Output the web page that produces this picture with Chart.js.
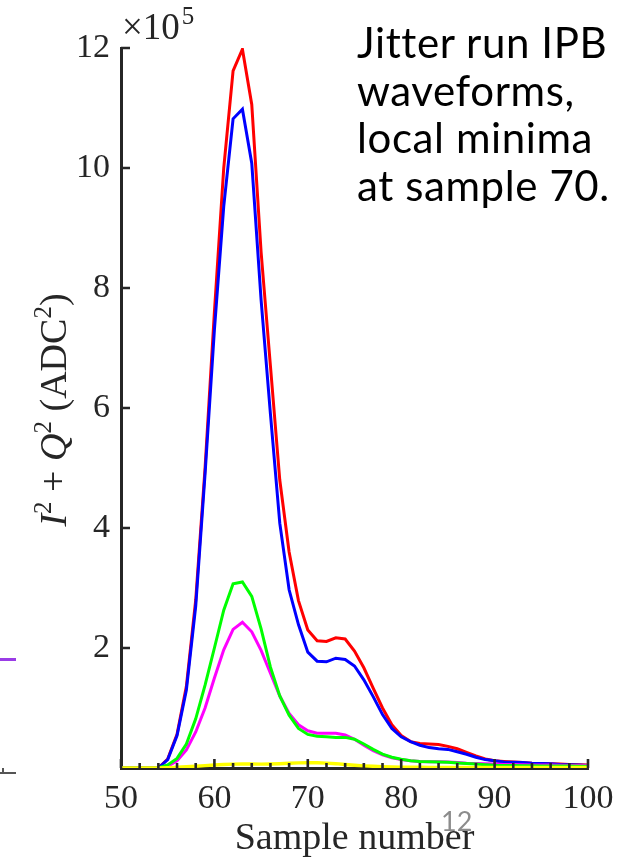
<!DOCTYPE html>
<html>
<head>
<meta charset="utf-8">
<script src="https://cdn.jsdelivr.net/npm/chart.js@4/dist/chart.umd.min.js"></script>
<style>
  html, body { margin: 0; padding: 0; background: #fff; }
  #wrap { position: relative; width: 641px; height: 865px; overflow: hidden; }
  #note {
    position: absolute; left: 357px; top: 19px;
    font-family: Lato, "Open Sans", sans-serif; font-size: 42px; line-height: 47.5px;
    letter-spacing: 0.6px; color: #000; white-space: nowrap;
  }
  #page { position: absolute; left: 441px; top: 804px; font-family: Lato, sans-serif; font-size: 27px; color: #8c8c8c; }
  .frag { position: absolute; }
</style>
</head>
<body>
<div id="wrap">
  <canvas id="myChart" width="641" height="865"></canvas>
  <div id="note">Jitter run IPB<br>waveforms,<br>local minima<br>at sample 70.</div>
  <div id="page">12</div>
  <!-- bits of the neighbouring figure on the slide -->
  <div class="frag" style="left:0;top:658px;width:16px;height:3px;background:#9a3ce6"></div>
  <div class="frag" style="left:0;top:772px;width:16px;height:2px;background:#555"></div>
  <div class="frag" style="left:2px;top:768px;width:2px;height:5px;background:#555"></div>
</div>
<script>
// sample index along the waveform
var samples = [50, 51, 52, 53, 54, 55, 56, 57, 58, 59,
               60, 61, 62, 63, 64, 65, 66, 67, 68, 69,
               70, 71, 72, 73, 74, 75, 76, 77, 78, 79,
               80, 81, 82, 83, 84, 85, 86, 87, 88, 89,
               90, 91, 92, 93, 94, 95, 96, 97, 98, 99, 100];

// I^2 + Q^2 in units of 1e5 ADC^2
var redWave = [0, 0, 0, 0, 0, 0.15, 0.56, 1.36, 2.8, 5.0,
               7.6, 10.0, 11.62, 11.98, 11.06, 8.6, 6.7, 4.8, 3.6, 2.79,
               2.3, 2.12, 2.11, 2.17, 2.15, 1.95, 1.67, 1.33, 1.0, 0.72,
               0.54, 0.44, 0.41, 0.4, 0.39, 0.36, 0.32, 0.26, 0.2, 0.15,
               0.12, 0.11, 0.1, 0.09, 0.08, 0.075, 0.07, 0.065, 0.06, 0.055, 0.05];
var blueWave = [0, 0, 0, 0, 0, 0.14, 0.54, 1.3, 2.7, 4.9,
                7.3, 9.36, 10.82, 10.98, 10.08, 7.8, 5.9, 4.08, 2.97, 2.39,
                1.93, 1.78, 1.77, 1.83, 1.81, 1.7, 1.47, 1.19, 0.89, 0.66,
                0.52, 0.44, 0.38, 0.34, 0.32, 0.31, 0.27, 0.23, 0.18, 0.14,
                0.12, 0.1, 0.095, 0.09, 0.08, 0.075, 0.07, 0.06, 0.055, 0.05, 0.04];
var greenWave = [0, 0, 0, 0, 0, 0.05, 0.16, 0.4, 0.82, 1.38,
                 2.0, 2.63, 3.07, 3.1, 2.86, 2.32, 1.68, 1.2, 0.88, 0.66,
                 0.56, 0.53, 0.52, 0.51, 0.51, 0.48, 0.4, 0.31, 0.23, 0.18,
                 0.145, 0.12, 0.11, 0.105, 0.1, 0.095, 0.085, 0.075, 0.065, 0.055,
                 0.045, 0.042, 0.04, 0.038, 0.036, 0.035, 0.034, 0.033, 0.032, 0.031, 0.03];
var magentaWave = [0, 0, 0, 0, 0, 0.03, 0.12, 0.3, 0.6, 1.0,
                   1.5, 1.97, 2.31, 2.43, 2.27, 1.96, 1.58, 1.2, 0.91, 0.72,
                   0.62, 0.58, 0.58, 0.58, 0.55, 0.48, 0.38, 0.29, 0.22, 0.17,
                   0.14, 0.12, 0.11, 0.105, 0.105, 0.1, 0.09, 0.08, 0.075, 0.07,
                   0.065, 0.06, 0.057, 0.054, 0.052, 0.05, 0.048, 0.045, 0.043, 0.041, 0.04];
var yellowWave = [0, 0, 0, 0, 0, 0.005, 0.012, 0.02, 0.03, 0.04,
                  0.05, 0.058, 0.064, 0.066, 0.066, 0.065, 0.067, 0.072, 0.078, 0.085,
                  0.09, 0.088, 0.082, 0.072, 0.058, 0.045, 0.035, 0.028, 0.022, 0.018,
                  0.015, 0.013, 0.012, 0.011, 0.011, 0.01, 0.01, 0.01, 0.01, 0.01,
                  0.009, 0.009, 0.009, 0.009, 0.009, 0.009, 0.008, 0.008, 0.008, 0.008, 0.008];

var yTicks = [2, 4, 6, 8, 10, 12];
var xTickLabels = [50, 60, 70, 80, 90, 100];

var AXIS_COLOR = '#262626';
var SERIF = '"Liberation Serif", "DejaVu Serif", serif';

function toPoints(values) {
  return samples.map(function(s, i) { return {x: s, y: values[i]}; });
}

function line(values, color, width, order) {
  return {
    data: toPoints(values),
    borderColor: color,
    borderWidth: width,
    pointRadius: 0,
    tension: 0,
    fill: false,
    order: order
  };
}

// draws text pieces one after another (italic letters, superscripts)
function drawRuns(ctx, runs, x, y) {
  var total = 0;
  runs.forEach(function(r) { ctx.font = r.font; total += ctx.measureText(r.text).width; });
  var cx = x - total / 2;
  runs.forEach(function(r) {
    ctx.font = r.font;
    ctx.fillText(r.text, cx, y + (r.dy || 0));
    cx += ctx.measureText(r.text).width;
  });
}

// MATLAB-style ticks pointing into the axes
var innerTicks = {
  id: 'innerTicks',
  afterDatasetsDraw: function(chart) {
    var ctx = chart.ctx, area = chart.chartArea;
    var xs = chart.scales.x, ys = chart.scales.y;
    ctx.save();
    ctx.strokeStyle = AXIS_COLOR;
    ctx.lineWidth = 2.6;
    ctx.beginPath();
    xs.ticks.forEach(function(t) {
      var px = xs.getPixelForValue(t.value);
      var len = xTickLabels.indexOf(t.value) >= 0 ? 9 : 5;
      ctx.moveTo(px, area.bottom);
      ctx.lineTo(px, area.bottom - len);
    });
    ys.ticks.forEach(function(t) {
      if (yTicks.indexOf(t.value) < 0) return;
      var py = ys.getPixelForValue(t.value);
      ctx.moveTo(area.left, py);
      ctx.lineTo(area.left + 9, py);
    });
    ctx.stroke();
    ctx.restore();
  }
};

var axisText = {
  id: 'axisText',
  afterDraw: function(chart) {
    var ctx = chart.ctx, area = chart.chartArea;
    var big = '38px ' + SERIF, ital = 'italic 38px ' + SERIF, sup = '25px ' + SERIF;
    ctx.save();
    ctx.fillStyle = AXIS_COLOR;
    ctx.textBaseline = 'alphabetic';
    ctx.translate(66, (area.top + area.bottom) / 2 + 2);
    ctx.rotate(-Math.PI / 2);
    drawRuns(ctx, [
      {text: 'I', font: ital},
      {text: '2', font: sup, dy: -15},
      {text: ' + ', font: big},
      {text: 'Q', font: ital},
      {text: '2', font: sup, dy: -15},
      {text: ' (ADC', font: big},
      {text: '2', font: sup, dy: -15},
      {text: ')', font: big}
    ], 0, 0);
    ctx.restore();

    // exponent above the y axis
    ctx.save();
    ctx.fillStyle = AXIS_COLOR;
    ctx.textBaseline = 'alphabetic';
    ctx.textAlign = 'left';
    ctx.font = '37px ' + SERIF;
    ctx.fillText('\u00d710', area.left + 1, 39);
    var w = ctx.measureText('\u00d710').width;
    ctx.font = '25px ' + SERIF;
    ctx.fillText('5', area.left + 3 + w, 24);
    ctx.restore();
  }
};

var ctx = document.getElementById('myChart').getContext('2d');
var chart = new Chart(ctx, {
  type: 'line',
  data: {
    datasets: [
      line(redWave, '#ff0000', 3, 5),
      line(blueWave, '#0000ff', 3, 4),
      line(magentaWave, '#ff00ff', 3, 3),
      line(greenWave, '#00ff00', 3, 2),
      line(yellowWave, '#ffff00', 3.4, 1)
    ]
  },
  options: {
    responsive: false,
    devicePixelRatio: 1,
    animation: false,
    layout: { padding: { top: 48, right: 53, left: 0, bottom: 0 } },
    plugins: { legend: { display: false }, tooltip: { enabled: false } },
    scales: {
      x: {
        type: 'linear',
        min: 50,
        max: 100,
        afterFit: function(scale) { scale.height = 97; },
        grid: { display: false, drawTicks: false },
        border: { display: true, color: AXIS_COLOR, width: 3 },
        ticks: {
          stepSize: 2,
          autoSkip: false,
          maxRotation: 0,
          padding: 11,
          color: AXIS_COLOR,
          font: { family: SERIF, size: 34 },
          callback: function(v) { return xTickLabels.indexOf(v) >= 0 ? String(v) : ''; }
        },
        title: {
          display: true,
          text: 'Sample number',
          color: AXIS_COLOR,
          font: { family: SERIF, size: 38 },
          padding: { top: 0, bottom: 3 }
        }
      },
      y: {
        min: 0,
        max: 12,
        afterFit: function(scale) { scale.width = 121; },
        grid: { display: false, drawTicks: false },
        border: { display: true, color: AXIS_COLOR, width: 3 },
        ticks: {
          stepSize: 2,
          padding: 11,
          color: AXIS_COLOR,
          font: { family: SERIF, size: 34 },
          callback: function(v) { return yTicks.indexOf(v) >= 0 ? String(v) : ''; }
        }
      }
    }
  },
  plugins: [innerTicks, axisText]
});
</script>
</body>
</html>
